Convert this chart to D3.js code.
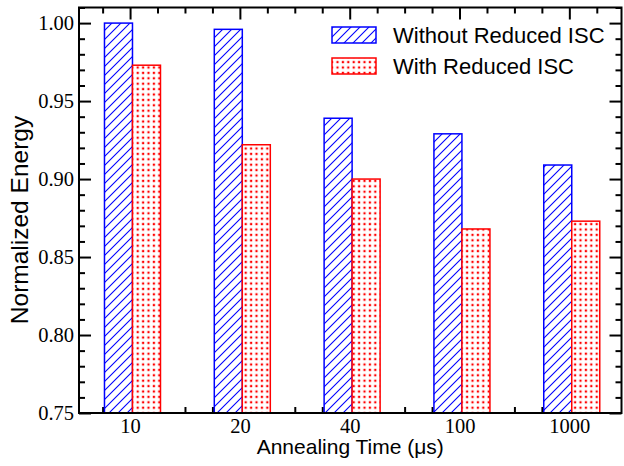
<!DOCTYPE html>
<html>
<head>
<meta charset="utf-8">
<script src="https://cdn.jsdelivr.net/npm/d3@7/dist/d3.min.js"></script>
<style>
  html, body { margin: 0; padding: 0; background: #fff; }
  svg { display: block; }
</style>
</head>
<body>
<svg id="chart" width="624" height="466"></svg>
<script>
// Annealing times (µs) shown on the category axis
const categories = ["10", "20", "40", "100", "1000"];
// Normalized energy per annealing time
const withoutReducedISC = [1.000, 0.996, 0.939, 0.929, 0.909];
const withReducedISC = [0.973, 0.922, 0.900, 0.868, 0.873];
const seriesNames = ["Without Reduced ISC", "With Reduced ISC"];
// Axis ticks
const yMajorTicks = [0.75, 0.80, 0.85, 0.90, 0.95, 1.00];
const yMinorStep = 0.01;
const xMinorStep = 0.25;

const svg = d3.select("#chart");
const plotLeft = 79, plotRight = 621.5, plotTop = 7.5, plotBottom = 413;

const x = d3.scaleLinear().domain([0.535, 5.475]).range([plotLeft, plotRight]);
const y = d3.scaleLinear().domain([0.75, 1.01]).range([plotBottom, plotTop]);

const blue = "#0000ff", red = "#ff0000";
const serifFont = "'Liberation Serif', 'DejaVu Serif', 'Times New Roman', serif";
const sansFont = "'Liberation Sans', Arial, sans-serif";

// Fill patterns: diagonal hatch and dot grid
const defs = svg.append("defs");
const hatch = defs.append("pattern")
  .attr("id", "hatch").attr("patternUnits", "userSpaceOnUse")
  .attr("width", 9).attr("height", 9);
hatch.append("rect").attr("width", 9).attr("height", 9).attr("fill", "#fff");
hatch.append("path")
  .attr("d", "M-1,10 L10,-1 M-5,5 L5,-5 M4,14 L14,4")
  .attr("stroke", blue).attr("stroke-width", 1.1);

const dots = defs.append("pattern")
  .attr("id", "dots").attr("patternUnits", "userSpaceOnUse")
  .attr("width", 5.4).attr("height", 5.4);
dots.append("rect").attr("width", 5.4).attr("height", 5.4).attr("fill", "#fff");
dots.append("rect").attr("x", 1.6).attr("y", 1.6).attr("width", 2.2).attr("height", 2.2).attr("fill", red);

// Ticks (drawn inside the frame on all four sides)
const xMajor = categories.map((_, i) => i + 1);
const xMinor = d3.range(0.75, 5.5, xMinorStep).filter(v => Math.abs(v - Math.round(v)) > 1e-6);
const yMinor = d3.range(0.75, 1.0101, yMinorStep).filter(v => !yMajorTicks.some(t => Math.abs(t - v) < 1e-6));

function styleAxis(g) {
  g.select(".domain").remove();
  g.selectAll(".tick line").attr("stroke", "#000").attr("stroke-width", 2);
}
function styleLabels(g) {
  g.attr("font-family", null).attr("font-size", null);
  g.selectAll("text")
    .style("font-family", serifFont)
    .style("font-size", "20.5px")
    .attr("fill", "#000");
}

const fmtX = (d) => categories[d - 1];
svg.append("g").attr("transform", `translate(0,${plotBottom})`)
  .call(d3.axisBottom(x).tickValues(xMinor).tickSize(-6).tickFormat(""))
  .call(styleAxis);
svg.append("g").attr("transform", `translate(0,${plotBottom})`)
  .call(d3.axisBottom(x).tickValues(xMajor).tickSize(-12).tickPadding(19.5).tickFormat(fmtX))
  .call(styleAxis)
  .call(styleLabels)
  .call(g => g.selectAll("text").attr("dy", 0));
svg.append("g").attr("transform", `translate(0,${plotTop})`)
  .call(d3.axisTop(x).tickValues(xMinor).tickSize(-6).tickFormat(""))
  .call(styleAxis);
svg.append("g").attr("transform", `translate(0,${plotTop})`)
  .call(d3.axisTop(x).tickValues(xMajor).tickSize(-12).tickFormat(""))
  .call(styleAxis);

svg.append("g").attr("transform", `translate(${plotLeft},0)`)
  .call(d3.axisLeft(y).tickValues(yMinor).tickSize(-6).tickFormat(""))
  .call(styleAxis);
svg.append("g").attr("transform", `translate(${plotLeft},0)`)
  .call(d3.axisLeft(y).tickValues(yMajorTicks).tickSize(-12).tickPadding(5).tickFormat(d3.format(".2f")))
  .call(styleAxis)
  .call(styleLabels)
  .call(g => g.selectAll("text").attr("dy", "0.33em"));
svg.append("g").attr("transform", `translate(${plotRight},0)`)
  .call(d3.axisRight(y).tickValues(yMinor).tickSize(-6).tickFormat(""))
  .call(styleAxis);
svg.append("g").attr("transform", `translate(${plotRight},0)`)
  .call(d3.axisRight(y).tickValues(yMajorTicks).tickSize(-12).tickFormat(""))
  .call(styleAxis);

// Bars
const barW = 0.255, barShift = 0.022;
const series = [
  { name: seriesNames[0], values: withoutReducedISC, fill: "url(#hatch)", stroke: blue, offset: -barW + barShift },
  { name: seriesNames[1], values: withReducedISC, fill: "url(#dots)", stroke: red, offset: barShift }
];
series.forEach(s => {
  svg.append("g").selectAll("rect")
    .data(s.values)
    .join("rect")
    .attr("x", (d, i) => x(i + 1 + s.offset))
    .attr("width", x(barW) - x(0))
    .attr("y", d => y(d))
    .attr("height", d => y(0.75) - y(d))
    .attr("fill", s.fill)
    .attr("stroke", s.stroke)
    .attr("stroke-width", 1.5);
});

// Frame
svg.append("rect")
  .attr("x", plotLeft).attr("y", plotTop)
  .attr("width", plotRight - plotLeft).attr("height", plotBottom - plotTop)
  .attr("fill", "none").attr("stroke", "#000").attr("stroke-width", 2);

// Legend
const legend = svg.append("g");
series.forEach((s, i) => {
  const ly = 27 + i * 31;
  legend.append("rect")
    .attr("x", 332).attr("y", ly).attr("width", 44).attr("height", 16)
    .attr("fill", s.fill).attr("stroke", s.stroke).attr("stroke-width", 1.5);
  legend.append("text")
    .attr("x", 393).attr("y", ly + 16)
    .style("font-family", sansFont)
    .style("font-size", "22px").attr("fill", "#000")
    .text(s.name);
});

// Axis titles
svg.append("text")
  .attr("x", (plotLeft + plotRight) / 2).attr("y", 454)
  .attr("text-anchor", "middle")
  .style("font-family", sansFont)
  .style("font-size", "21px").attr("fill", "#000")
  .text("Annealing Time (μs)");
svg.append("text")
  .attr("transform", `translate(28,220) rotate(-90)`)
  .attr("text-anchor", "middle")
  .style("font-family", sansFont)
  .style("font-size", "24.5px").attr("fill", "#000")
  .text("Normalized Energy");
</script>
</body>
</html>
